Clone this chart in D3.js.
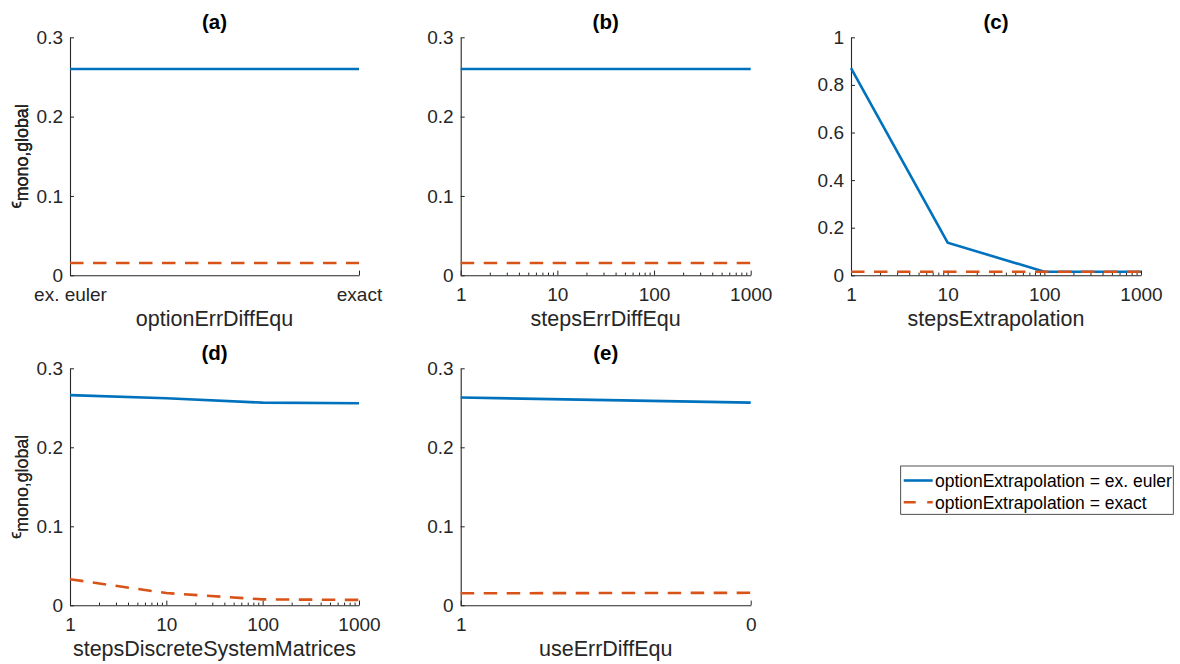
<!DOCTYPE html>
<html>
<head>
<meta charset="utf-8">
<script src="https://cdn.jsdelivr.net/npm/d3@7"></script>
<style>
  html, body { margin: 0; padding: 0; background: #fff; }
  svg { display: block; font-family: "Liberation Sans", Arial, Helvetica, sans-serif; }
</style>
</head>
<body>
<svg id="fig" width="1180" height="664"></svg>
<script>
// ---- data ----
const stepValues = [1, 10, 100, 1000];
const stepTicks = [1, 10, 100, 1000];
const methodCategories = ["ex. euler", "exact"];
const useErrCategories = ["1", "0"];

const yTicksSmall = [0, 0.1, 0.2, 0.3];
const yTicksLarge = [0, 0.2, 0.4, 0.6, 0.8, 1];

// error of optionExtrapolation = ex. euler / exact for each study
const aEuler = [0.260, 0.260];
const aExact = [0.0155, 0.0155];
const bEuler = [0.260, 0.260, 0.260, 0.260];
const bExact = [0.0155, 0.0155, 0.0155, 0.0155];
const cEuler = [0.870, 0.137, 0.015, 0.015];
const cExact = [0.015, 0.015, 0.015, 0.015];
const dEuler = [0.266, 0.262, 0.2565, 0.2557];
const dExact = [0.033, 0.0155, 0.0075, 0.0068];
const eEuler = [0.263, 0.2565];
const eExact = [0.0152, 0.0158];

const seriesNames = ["optionExtrapolation = ex. euler", "optionExtrapolation = exact"];
const seriesColors = ["#0072BD", "#D95319"];

// ---- panel definitions ----
const panels = [
  { title: "(a)", xlabel: "optionErrDiffEqu", type: "cat", x: methodCategories, yTicks: yTicksSmall, yMax: 0.3, series: [aEuler, aExact],
    box: { left: 70, top: 37.3, width: 289, height: 238 } },
  { title: "(b)", xlabel: "stepsErrDiffEqu", type: "log", x: stepValues, yTicks: yTicksSmall, yMax: 0.3, series: [bEuler, bExact],
    box: { left: 460.7, top: 37.3, width: 290, height: 238 } },
  { title: "(c)", xlabel: "stepsExtrapolation", type: "log", x: stepValues, yTicks: yTicksLarge, yMax: 1, series: [cEuler, cExact],
    box: { left: 851, top: 37.3, width: 290, height: 238 } },
  { title: "(d)", xlabel: "stepsDiscreteSystemMatrices", type: "log", x: stepValues, yTicks: yTicksSmall, yMax: 0.3, series: [dEuler, dExact],
    box: { left: 70, top: 368.3, width: 289, height: 237 } },
  { title: "(e)", xlabel: "useErrDiffEqu", type: "cat", x: useErrCategories, yTicks: yTicksSmall, yMax: 0.3, series: [eEuler, eExact],
    box: { left: 460.7, top: 368.3, width: 290, height: 237 } }
];

const axisColor = "#262626";
const tickFont = 19;
const labelFont = 21.5;
const dashPattern = "13.5,9.5";

const svg = d3.select("#fig");

function fmtY(v) {
  return v === 0 ? "0" : (v === 1 ? "1" : d3.format(".1f")(v));
}

panels.forEach(p => {
  const { left, top, width, height } = p.box;
  const g = svg.append("g").attr("transform", `translate(${left},${top})`);

  let x;
  if (p.type === "log") {
    x = d3.scaleLog().domain([1, 1000]).range([0, width]);
  } else {
    x = d3.scalePoint().domain(p.x).range([0, width]).padding(0);
  }
  const y = d3.scaleLinear().domain([0, p.yMax]).range([height, 0]);

  // y axis (ticks pointing inward)
  const yAxis = g.append("g")
    .call(d3.axisLeft(y).tickValues(p.yTicks).tickFormat(fmtY).tickSizeInner(-4).tickSizeOuter(0).tickPadding(7));
  yAxis.select(".domain").attr("stroke", axisColor).attr("stroke-width", 1.1);
  yAxis.selectAll(".tick line").attr("stroke", axisColor);
  yAxis.selectAll("text").attr("fill", axisColor).style("font-size", tickFont + "px");

  // x axis
  const xAxisG = g.append("g").attr("transform", `translate(0,${height})`);
  if (p.type === "log") {
    const minor = [];
    [1, 10, 100].forEach(dec => { for (let k = 2; k <= 9; k++) minor.push(dec * k); });
    const minorG = g.append("g").attr("transform", `translate(0,${height})`)
      .call(d3.axisBottom(x).tickValues(minor).tickFormat("").tickSizeInner(-2.7).tickSizeOuter(0));
    minorG.select(".domain").remove();
    minorG.selectAll(".tick line").attr("stroke", axisColor);
    xAxisG.call(d3.axisBottom(x).tickValues(stepTicks).tickFormat(d3.format("d")).tickSizeInner(-4.7).tickSizeOuter(0).tickPadding(12));
  } else {
    xAxisG.call(d3.axisBottom(x).tickSizeInner(-4.7).tickSizeOuter(0).tickPadding(12));
  }
  xAxisG.select(".domain").attr("stroke", axisColor).attr("stroke-width", 1.1);
  xAxisG.selectAll(".tick line").attr("stroke", axisColor);
  xAxisG.selectAll("text").attr("fill", axisColor).style("font-size", tickFont + "px");

  // data lines
  const xs = p.x;
  p.series.forEach((vals, si) => {
    const pts = vals.map((v, i) => [x(xs[i]), y(v)]);
    g.append("path")
      .attr("d", d3.line()(pts))
      .attr("fill", "none")
      .attr("stroke", seriesColors[si])
      .attr("stroke-width", 2.6)
      .attr("stroke-dasharray", si === 1 ? dashPattern : null);
  });

  // title
  g.append("text")
    .attr("x", width / 2).attr("y", -8)
    .attr("text-anchor", "middle")
    .style("font-size", "20.5px").style("font-weight", "bold")
    .attr("fill", "#000")
    .text(p.title);

  // x label
  g.append("text")
    .attr("x", width / 2).attr("y", height + 51)
    .attr("text-anchor", "middle")
    .style("font-size", labelFont + "px")
    .attr("fill", axisColor)
    .text(p.xlabel);

  // y label: epsilon with subscript
  const yl = g.append("text")
    .attr("transform", `translate(${20.7 - left},${height / 2}) rotate(-90)`)
    .attr("text-anchor", "middle")
    .attr("fill", axisColor);
  yl.append("tspan").style("font-size", "16px").text("\u03F5");
  yl.append("tspan").attr("dy", 7.5).style("font-size", "17.8px").text("mono,global");
});

// ---- legend ----
const leg = svg.append("g").attr("transform", "translate(900.7,466)");
leg.append("rect")
  .attr("width", 272.6).attr("height", 48.3)
  .attr("fill", "#fff").attr("stroke", axisColor).attr("stroke-width", 0.8);
seriesNames.forEach((name, i) => {
  const cy = i === 0 ? 14.5 : 36.3;
  leg.append("line")
    .attr("x1", 3).attr("x2", 32)
    .attr("y1", cy).attr("y2", cy)
    .attr("stroke", seriesColors[i]).attr("stroke-width", 2.6)
    .attr("stroke-dasharray", i === 1 ? "12,11.5" : null);
  leg.append("text")
    .attr("x", 34.3).attr("y", cy + 6.2)
    .style("font-size", "17.5px")
    .attr("fill", "#000")
    .text(name);
});
</script>
</body>
</html>
